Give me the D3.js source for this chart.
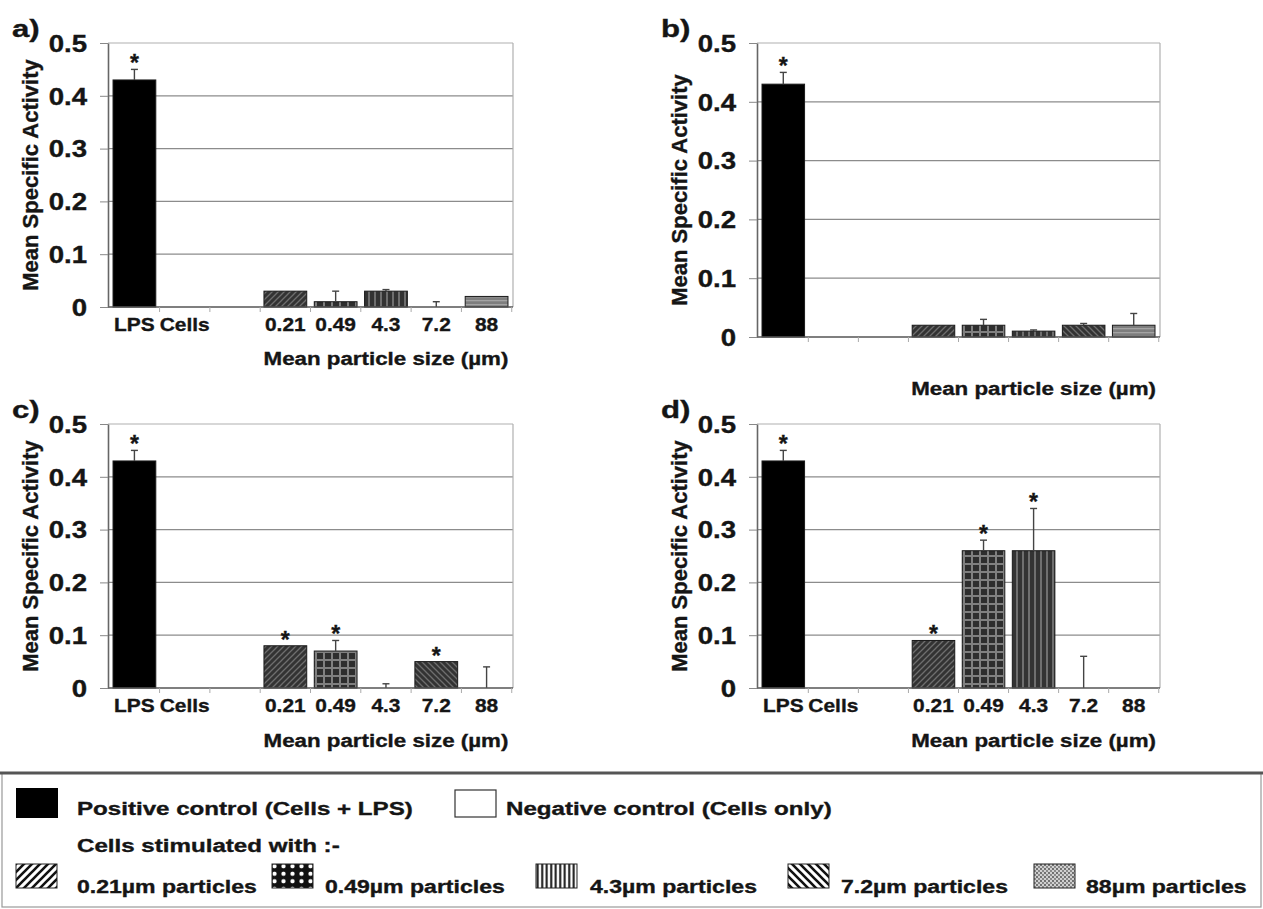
<!DOCTYPE html>
<html>
<head>
<meta charset="utf-8">
<script src="https://cdn.jsdelivr.net/npm/d3@7"></script>
<style>
  body { margin: 0; background: #fff; }
  text { font-family: "Liberation Sans", Arial, sans-serif; font-weight: bold; fill: #151515;
         stroke: #151515; stroke-width: 0.35px; }
</style>
</head>
<body>
<svg id="fig" width="1263" height="909"></svg>
<script>
// categories along the x axis (third slot is an empty spacer)
var categories = ['LPS', 'Cells', 'gap', '0.21', '0.49', '4.3', '7.2', '88'];
var tickLabels = ['LPS', 'Cells', '', '0.21', '0.49', '4.3', '7.2', '88'];
var yTicks = [0, 0.1, 0.2, 0.3, 0.4, 0.5];

// panel a
var valuesA = [0.43, 0, 0, 0.03, 0.01, 0.03, 0, 0.02];
var errorsA = [0.02, 0, 0, 0, 0.02, 0.003, 0.01, 0];
var starsA  = [1, 0, 0, 0, 0, 0, 0, 0];
// panel b
var valuesB = [0.43, 0, 0, 0.02, 0.02, 0.01, 0.02, 0.02];
var errorsB = [0.02, 0, 0, 0, 0.01, 0.002, 0.003, 0.02];
var starsB  = [1, 0, 0, 0, 0, 0, 0, 0];
// panel c
var valuesC = [0.43, 0, 0, 0.08, 0.07, 0, 0.05, 0];
var errorsC = [0.02, 0, 0, 0, 0.02, 0.008, 0, 0.04];
var starsC  = [1, 0, 0, 1, 1, 0, 1, 0];
// panel d
var valuesD = [0.43, 0, 0, 0.09, 0.26, 0.26, 0, 0];
var errorsD = [0.02, 0, 0, 0, 0.02, 0.08, 0.06, 0];
var starsD  = [1, 0, 0, 1, 1, 1, 0, 0];

var yTitle = 'Mean Specific Activity';
var xTitle = 'Mean particle size (\u00b5m)';
var controlLabels = ['Positive control (Cells + LPS)', 'Negative control (Cells only)'];
var stimLabel = 'Cells stimulated with :-';
var particleLabels = ['0.21\u00b5m particles', '0.49\u00b5m particles', '4.3\u00b5m particles',
                      '7.2\u00b5m particles', '88\u00b5m particles'];

var svg = d3.select('#fig');

// widen text horizontally like the scanned figure
function stretch(sel, k) {
  sel.each(function() {
    var w = this.getComputedTextLength();
    if (w > 0) d3.select(this).attr('textLength', w * k).attr('lengthAdjust', 'spacingAndGlyphs');
  });
}

// patterns
var defs = svg.append('defs');
function pattern(id, w, h, bg, draw) {
  var p = defs.append('pattern').attr('id', id).attr('patternUnits', 'userSpaceOnUse')
    .attr('width', w).attr('height', h);
  p.append('rect').attr('width', w).attr('height', h).attr('fill', bg);
  draw(p);
}
// bar patterns (dark, as printed)
pattern('bar021', 6, 6, '#333', function(p) {
  p.append('path').attr('d', 'M0,6L6,0M-1,1L1,-1M5,7L7,5').attr('stroke', '#6e6e6e').attr('stroke-width', 1.3);
});
pattern('bar049', 8, 8, '#2e2e2e', function(p) {
  p.append('path').attr('d', 'M0,4H8M4,0V8').attr('stroke', '#808080').attr('stroke-width', 2);
});
pattern('bar43', 6, 6, '#333', function(p) {
  p.append('path').attr('d', 'M3,0V6').attr('stroke', '#7e7e7e').attr('stroke-width', 1.6);
});
pattern('bar72', 6, 6, '#333', function(p) {
  p.append('path').attr('d', 'M0,0L6,6M5,-1L7,1M-1,5L1,7').attr('stroke', '#6e6e6e').attr('stroke-width', 1.3);
});
pattern('bar88', 4, 4, '#7e7e7e', function(p) {
  p.append('rect').attr('x', 0).attr('y', 0).attr('width', 4).attr('height', 1.3).attr('fill', '#a4a4a4');
});
// legend swatch patterns (crisp)
pattern('leg021', 8, 8, '#fff', function(p) {
  p.append('path').attr('d', 'M0,8L8,0M-2,2L2,-2M6,10L10,6').attr('stroke', '#111').attr('stroke-width', 2.6);
});
pattern('leg049', 9, 7.5, '#111', function(p) {
  p.append('circle').attr('cx', 4.5).attr('cy', 3.75).attr('r', 2.2).attr('fill', '#fff');
});
pattern('leg43', 4.5, 4, '#fff', function(p) {
  p.append('path').attr('d', 'M2.2,0V4').attr('stroke', '#111').attr('stroke-width', 2);
});
pattern('leg72', 8, 8, '#fff', function(p) {
  p.append('path').attr('d', 'M0,0L8,8M6,-2L10,2M-2,6L2,10').attr('stroke', '#111').attr('stroke-width', 2.6);
});
pattern('leg88', 4, 4, '#d0d0d0', function(p) {
  p.append('circle').attr('cx', 1).attr('cy', 1).attr('r', 0.9).attr('fill', '#444');
  p.append('circle').attr('cx', 3).attr('cy', 3).attr('r', 0.9).attr('fill', '#666');
});

var barFills = ['#000', '#fff', '#fff', 'url(#bar021)', 'url(#bar049)', 'url(#bar43)', 'url(#bar72)', 'url(#bar88)'];
var legendFills = ['url(#leg021)', 'url(#leg049)', 'url(#leg43)', 'url(#leg72)', 'url(#leg88)'];

function drawPanel(cfg, values, errors, stars) {
  var g = svg.append('g');
  var x = d3.scaleBand().domain(categories).range([cfg.left, cfg.right])
    .paddingInner(0.15).paddingOuter(0.1);
  var y = d3.scaleLinear().domain([0, 0.5]).range([cfg.bottom, cfg.top]);

  // gridlines + frame
  g.selectAll('.grid').data(yTicks.filter(d => d > 0 && d < 0.5)).enter()
    .append('line')
      .attr('x1', cfg.left).attr('x2', cfg.right)
      .attr('y1', d => y(d)).attr('y2', d => y(d))
      .attr('stroke', '#8c8c8c').attr('stroke-width', 1.2);
  g.append('line').attr('x1', cfg.left).attr('x2', cfg.right)
    .attr('y1', y(0.5)).attr('y2', y(0.5)).attr('stroke', '#b0b0b0').attr('stroke-width', 1.2);
  g.append('line').attr('x1', cfg.right).attr('x2', cfg.right)
    .attr('y1', y(0.5)).attr('y2', y(0)).attr('stroke', '#b0b0b0').attr('stroke-width', 1.2);

  // bars
  values.forEach(function(v, i) {
    if (v <= 0) return;
    g.append('rect')
      .attr('x', x(categories[i]))
      .attr('y', y(v))
      .attr('width', x.bandwidth())
      .attr('height', y(0) - y(v))
      .attr('fill', barFills[i])
      .attr('stroke', '#1a1a1a').attr('stroke-width', 1);
  });

  // error bars (upper only) and significance stars
  values.forEach(function(v, i) {
    var cx = x(categories[i]) + x.bandwidth() / 2;
    if (errors[i] > 0) {
      g.append('line').attr('x1', cx).attr('x2', cx)
        .attr('y1', y(v)).attr('y2', y(v + errors[i]))
        .attr('stroke', '#444').attr('stroke-width', 1.4);
      g.append('line').attr('x1', cx - 3.5).attr('x2', cx + 3.5)
        .attr('y1', y(v + errors[i])).attr('y2', y(v + errors[i]))
        .attr('stroke', '#444').attr('stroke-width', 1.4);
    }
    if (stars[i]) {
      g.append('text').attr('x', cx).attr('y', y(v + errors[i]) + 2)
        .attr('text-anchor', 'middle').attr('font-size', 23).text('*');
    }
  });

  // x axis line and boundary ticks
  g.append('line').attr('x1', cfg.left).attr('x2', cfg.right)
    .attr('y1', y(0)).attr('y2', y(0)).attr('stroke', '#555').attr('stroke-width', 1.6);
  var step = x.step();
  g.selectAll('.xtick').data(categories).enter()
    .append('line')
      .attr('x1', d => x(d) + x.bandwidth() + step * 0.075)
      .attr('x2', d => x(d) + x.bandwidth() + step * 0.075)
      .attr('y1', y(0)).attr('y2', y(0) + 5)
      .attr('stroke', '#aaa');

  // y axis
  var yAxis = d3.axisLeft(y).tickValues(yTicks).tickSize(8).tickSizeOuter(0).tickPadding(13)
    .tickFormat(d => d === 0 ? '0' : d.toFixed(1));
  var ya = g.append('g').attr('transform', 'translate(' + cfg.left + ',0)').call(yAxis);
  ya.select('.domain').attr('stroke', '#666').attr('stroke-width', 1.6);
  ya.selectAll('.tick line').attr('stroke', '#888');
  ya.selectAll('.tick text').attr('font-size', 23).attr('font-family', null).attr('fill', '#151515')
    .attr('dy', '0.36em');
  stretch(ya.selectAll('.tick text'), 1.2);

  // x tick labels
  if (cfg.showLabels) {
    var xl = g.selectAll('.xlab').data(categories).enter()
      .append('text')
        .attr('x', d => x(d) + x.bandwidth() / 2)
        .attr('y', y(0) + 24)
        .attr('text-anchor', 'middle')
        .attr('font-size', 19)
        .text((d, i) => tickLabels[i]);
    stretch(xl, 1.1);
  }

  // axis titles
  var mid = (x('0.21') + x('88') + x.bandwidth()) / 2;
  var xt = g.append('text').attr('x', mid).attr('y', cfg.titleY)
    .attr('text-anchor', 'middle').attr('font-size', 18).text(xTitle);
  stretch(xt, 1.24);

  g.append('text')
    .attr('transform', 'translate(' + (cfg.left - 70) + ',' + ((cfg.top + cfg.bottom) / 2) + ') rotate(-90)')
    .attr('text-anchor', 'middle').attr('font-size', 22).text(yTitle);

  // panel letter
  var pl = g.append('text').attr('x', cfg.left - 96).attr('y', cfg.top - 6)
    .attr('font-size', 24).text(cfg.letter);
  stretch(pl, 1.3);
}

drawPanel({ left: 108, right: 513, top: 43, bottom: 307, titleY: 365, showLabels: true, letter: 'a)' },
  valuesA, errorsA, starsA);
drawPanel({ left: 757, right: 1160, top: 43, bottom: 337, titleY: 395, showLabels: false, letter: 'b)' },
  valuesB, errorsB, starsB);
drawPanel({ left: 108, right: 513, top: 424, bottom: 688, titleY: 747, showLabels: true, letter: 'c)' },
  valuesC, errorsC, starsC);
drawPanel({ left: 757, right: 1160, top: 424, bottom: 688, titleY: 747, showLabels: true, letter: 'd)' },
  valuesD, errorsD, starsD);

// legend
var leg = svg.append('g');
leg.append('rect').attr('x', 2).attr('y', 773).attr('width', 1259).attr('height', 134)
  .attr('fill', 'none').attr('stroke', '#999').attr('stroke-width', 1.2);
leg.append('line').attr('x1', 0).attr('x2', 1263).attr('y1', 773).attr('y2', 773)
  .attr('stroke', '#555').attr('stroke-width', 3);

leg.append('rect').attr('x', 16).attr('y', 788).attr('width', 42).attr('height', 30).attr('fill', '#000');
leg.append('rect').attr('x', 455).attr('y', 790).attr('width', 41).attr('height', 27)
  .attr('fill', '#fff').attr('stroke', '#333').attr('stroke-width', 1.2);
var ctrlX = [77, 506];
var ct = leg.selectAll('.ctrl').data(controlLabels).enter()
  .append('text').attr('x', (d, i) => ctrlX[i]).attr('y', 815).attr('font-size', 18).text(d => d);
stretch(ct, 1.34);
var st = leg.append('text').attr('x', 77).attr('y', 852).attr('font-size', 18).text(stimLabel);
stretch(st, 1.34);

var swatchX = [16, 272, 536, 788, 1034];
var partX = [77, 325, 590, 841, 1086];
leg.selectAll('.sw').data(particleLabels).enter()
  .append('rect')
    .attr('x', (d, i) => swatchX[i]).attr('y', 864)
    .attr('width', 41).attr('height', 24)
    .attr('fill', (d, i) => legendFills[i])
    .attr('stroke', '#222').attr('stroke-width', 1);
var pt = leg.selectAll('.pl').data(particleLabels).enter()
  .append('text').attr('x', (d, i) => partX[i]).attr('y', 893).attr('font-size', 18).text(d => d);
stretch(pt, 1.28);
</script>
</body>
</html>
